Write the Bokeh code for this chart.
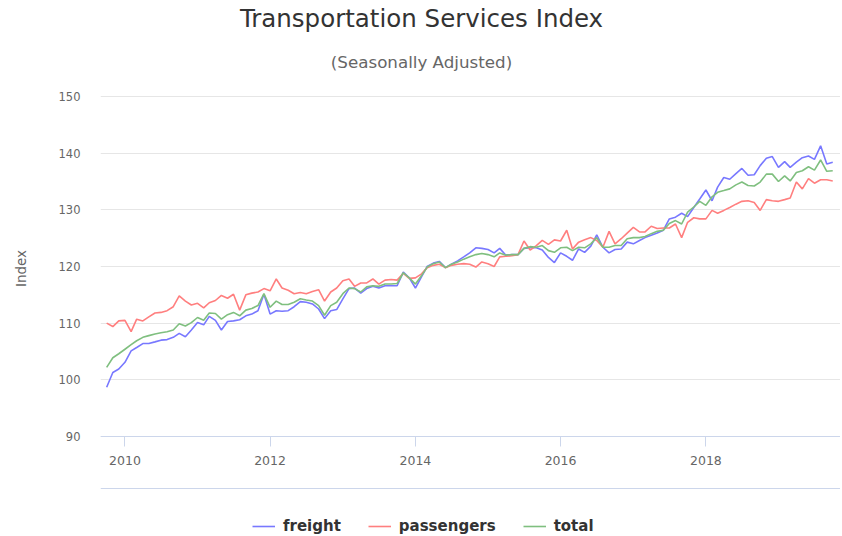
import pandas as pd
from bokeh.plotting import figure
from bokeh.models import (Range1d, FixedTicker, DatetimeTickFormatter, Legend, LegendItem,
                          DatetimeAxis, ColumnDataSource, Label)
from bokeh.embed import file_html
from bokeh.resources import INLINE

# ---------------- data (monthly, Oct 2009 - Oct 2019) ----------------
start_month = "2009-10-01"
freight = [98.7, 101.3, 101.9, 103.1, 105.1, 105.7, 106.4, 106.4, 106.7, 107.0, 107.1, 107.5,
           108.2, 107.6, 108.8, 110.1, 109.7, 111.2, 110.5, 108.8, 110.3, 110.4, 110.6, 111.3,
           111.6, 112.2, 115.1, 111.6, 112.2, 112.1, 112.2, 112.9, 113.8, 113.7, 113.4, 112.5,
           110.8, 112.2, 112.4, 114.3, 116.1, 116.2, 115.3, 116.1, 116.5, 116.2, 116.6, 116.6,
           116.6, 119.0, 118.0, 116.2, 118.2, 120.0, 120.6, 120.9, 119.8, 120.4, 121.0, 121.7,
           122.4, 123.3, 123.2, 123.0, 122.4, 123.2, 122.0, 122.1, 122.1, 123.2, 123.3, 123.3,
           122.9, 121.6, 120.7, 122.4, 121.8, 121.1, 123.1, 122.5, 123.6, 125.6, 123.4, 122.4,
           123.0, 123.1, 124.3, 124.0, 124.6, 125.1, 125.5, 125.9, 126.4, 128.4, 128.7, 129.4,
           128.8, 130.4, 131.9, 133.5, 131.6, 134.0, 135.7, 135.4, 136.4, 137.3, 136.1, 136.2,
           137.8, 139.1, 139.4, 137.5, 138.5, 137.5, 138.4, 139.2, 139.5, 138.9, 141.3, 138.1,
           138.4]
passengers = [110.0, 109.4, 110.4, 110.5, 108.5, 110.7, 110.4, 111.1, 111.8, 111.9, 112.2, 112.9,
              114.8, 113.9, 113.2, 113.5, 112.7, 113.6, 114.0, 114.9, 114.4, 115.1, 112.3, 115.0,
              115.3, 115.5, 116.1, 115.7, 117.8, 116.2, 115.8, 115.2, 115.4, 115.2, 115.6, 115.9,
              113.9, 115.5, 116.2, 117.5, 117.8, 116.5, 117.1, 117.1, 117.8, 116.9, 117.6, 117.7,
              117.6, 118.8, 117.9, 118.0, 118.7, 119.8, 120.2, 120.4, 119.8, 120.2, 120.4, 120.5,
              120.4, 119.9, 120.8, 120.5, 120.0, 121.7, 121.8, 121.9, 122.1, 124.5, 122.9, 123.7,
              124.6, 123.9, 124.7, 124.5, 126.4, 123.1, 124.3, 124.7, 125.1, 124.6, 123.4, 126.2,
              124.0, 124.9, 125.9, 126.9, 126.1, 126.1, 127.1, 126.7, 126.8, 126.8, 127.5, 125.1,
              127.8, 128.6, 128.4, 128.4, 129.9, 129.4, 129.9, 130.4, 131.0, 131.5, 131.6, 131.3,
              129.9, 131.8, 131.6, 131.5, 131.8, 132.1, 134.9, 133.7, 135.5, 134.7, 135.3, 135.3,
              135.1]
total = [102.2, 103.9, 104.6, 105.4, 106.2, 106.9, 107.5, 107.8, 108.1, 108.3, 108.5, 108.8,
         109.9, 109.5, 110.1, 111.0, 110.5, 111.8, 111.7, 110.7, 111.5, 111.9, 111.3, 112.3,
         112.6, 113.1, 115.2, 112.8, 113.9, 113.3, 113.3, 113.7, 114.3, 114.1, 113.9, 113.1,
         111.4, 113.1, 113.7, 115.2, 116.2, 116.1, 115.5, 116.4, 116.6, 116.5, 116.9, 116.9,
         117.0, 118.9, 118.0, 116.9, 118.4, 119.9, 120.5, 120.8, 119.8, 120.4, 120.8, 121.3,
         121.7, 122.1, 122.3, 122.1, 121.7, 122.4, 122.0, 122.1, 122.1, 123.2, 123.5, 123.4,
         123.7, 122.8, 122.5, 123.3, 123.4, 122.8, 123.4, 123.3, 124.0, 125.1, 123.4, 123.4,
         123.7, 123.7, 124.9, 125.1, 125.1, 125.3, 125.8, 126.2, 126.4, 127.6, 128.1, 127.5,
         129.6, 130.5, 131.5, 130.8, 132.3, 133.1, 133.4, 133.7, 134.4, 134.9, 134.3, 134.2,
         134.9, 136.3, 136.3, 135.0, 136.0, 135.1, 136.6, 136.9, 137.6, 137.0, 138.8, 136.8,
         136.9]
tick_years = [2010, 2012, 2014, 2016, 2018]
y_ticks = [90, 100, 110, 120, 130, 140, 150]
series_names = ["freight", "passengers", "total"]
series_colors = ["#7878ff", "#ff7f7f", "#7fbf7f"]
title_text = "Transportation Services Index"
subtitle_text = "(Seasonally Adjusted)"

dates = pd.date_range(start_month, periods=len(freight), freq="MS")
src = ColumnDataSource(dict(date=dates, freight=freight, passengers=passengers, total=total))

FONT = "DejaVu Sans"

# ---------------- layout (pixels) ----------------
W, H = 840, 536
FRAME_LEFT = 100
Y_TOP_PX, Y_BOTTOM_PX = 96, 436          # where 150 and 90 sit
PX_PER_UNIT = (Y_BOTTOM_PX - Y_TOP_PX) / (y_ticks[-1] - y_ticks[0])
y_lo = y_ticks[0] - (H - Y_BOTTOM_PX) / PX_PER_UNIT
y_hi = y_ticks[-1] + Y_TOP_PX / PX_PER_UNIT
BASE_LINE_PX = 488
base_line_value = y_ticks[0] - (BASE_LINE_PX - Y_BOTTOM_PX) / PX_PER_UNIT

p = figure(width=W, height=H, x_axis_type="datetime", output_backend="svg",
           toolbar_location=None, title=None,
           x_range=Range1d(pd.Timestamp("2009-08-31"), pd.Timestamp("2019-11-09")),
           y_range=Range1d(y_lo, y_hi),
           min_border_left=FRAME_LEFT, min_border_right=0, min_border_top=0, min_border_bottom=0)
p.outline_line_color = None
p.background_fill_color = "white"

# y axis
yax = p.yaxis[0]
yax.ticker = FixedTicker(ticks=y_ticks)
yax.axis_line_color = None
yax.major_tick_line_color = None
yax.major_tick_out = 0
yax.minor_tick_line_color = None
yax.major_label_standoff = 20
yax.major_label_text_font = FONT
yax.major_label_text_font_size = "11.5px"
yax.major_label_text_color = "#666666"
yax.axis_label = "Index"
yax.axis_label_text_font = FONT
yax.axis_label_text_font_size = "13.5px"
yax.axis_label_text_font_style = "normal"
yax.axis_label_text_color = "#666666"
yax.axis_label_standoff = 27
p.ygrid.ticker = FixedTicker(ticks=y_ticks)
p.ygrid.grid_line_color = "#e6e6e6"
p.xgrid.grid_line_color = None

# x axis (drawn at the 90 line)
xax = p.xaxis[0]
xax.fixed_location = y_ticks[0]
xax.ticker = FixedTicker(ticks=[pd.Timestamp(f"{y}-01-01").value / 1e6 for y in tick_years])
xax.formatter = DatetimeTickFormatter(years="%Y", months="%Y", days="%Y")
xax.axis_line_color = "#ccd6eb"
xax.major_tick_line_color = "#ccd6eb"
xax.major_tick_out = 10
xax.major_tick_in = 0
xax.minor_tick_line_color = None
xax.major_label_standoff = 9
xax.major_label_text_font = FONT
xax.major_label_text_font_size = "12.5px"
xax.major_label_text_color = "#666666"

# lower base line
x2 = DatetimeAxis(ticker=FixedTicker(ticks=[]), axis_line_color="#ccd6eb",
                  fixed_location=base_line_value,
                  major_tick_line_color=None, minor_tick_line_color=None,
                  major_tick_out=0, major_tick_in=0, major_label_standoff=0,
                  major_label_text_font_size="0px")
p.add_layout(x2, "below")

renderers = []
for name, col in zip(series_names, series_colors):
    r = p.line("date", name, source=src, line_color=col, line_width=1.6)
    renderers.append(r)

legend = Legend(items=[LegendItem(label=n, renderers=[r]) for n, r in zip(series_names, renderers)],
                orientation="horizontal", location=(152, 1),
                label_text_font=FONT, label_text_font_style="bold", label_text_font_size="15px",
                label_text_color="#333333", glyph_width=23, glyph_height=16, label_standoff=8,
                spacing=27, padding=0, margin=0, border_line_color=None,
                background_fill_alpha=0)
p.add_layout(legend)

CENTER_X = 421 - FRAME_LEFT
p.add_layout(Label(x=CENTER_X, y=H - 18, x_units="screen", y_units="screen",
                   text=title_text, text_align="center", text_baseline="middle",
                   text_font=FONT, text_font_size="24.5px", text_color="#333333"))
p.add_layout(Label(x=CENTER_X, y=H - 61, x_units="screen", y_units="screen",
                   text=subtitle_text, text_align="center", text_baseline="middle",
                   text_font=FONT, text_font_size="16.7px", text_color="#666666"))

open("out.html", "w").write(file_html(p, INLINE))
